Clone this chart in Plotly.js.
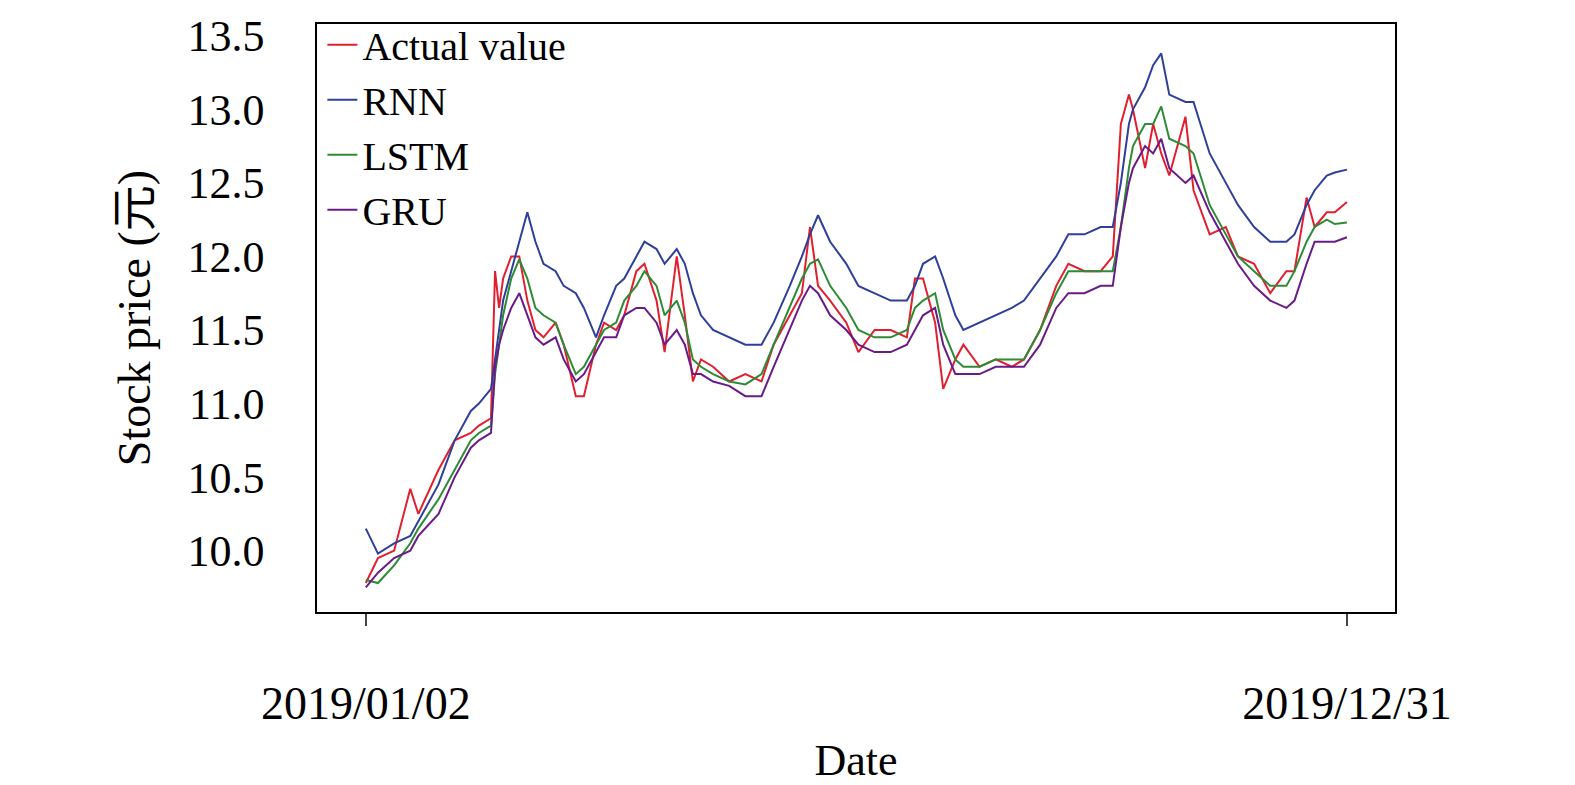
<!DOCTYPE html>
<html><head><meta charset="utf-8">
<script src="https://cdn.plot.ly/plotly-3.0.1.min.js"></script>
<style>body{margin:0}</style></head>
<body><div id="chart" style="width:1575px;height:785px"></div>
<script>
// trading-day index of each sampled point
const days = [0,3,7,11,13,18,22,26,28,31,32,33,34,36,38,40,42,44,47,49,52,54,57,59,62,64,67,69,72,74,77,79,81,83,86,90,94,98,101,105,108,110,112,115,119,122,126,130,134,136,138,141,143,146,148,152,156,160,163,167,171,174,178,182,185,187,189,190,193,195,197,199,203,205,209,213,216,220,224,228,230,233,235,238,240,243];
const actual = [9.78,9.95,10.0,10.42,10.25,10.55,10.75,10.8,10.85,10.9,11.9,11.65,11.85,12.0,12.0,11.7,11.5,11.45,11.55,11.4,11.05,11.05,11.4,11.55,11.5,11.6,11.9,11.95,11.7,11.35,12.0,11.6,11.15,11.3,11.25,11.15,11.2,11.15,11.4,11.6,11.75,12.2,11.8,11.7,11.55,11.35,11.5,11.5,11.45,11.85,11.85,11.55,11.1,11.3,11.4,11.25,11.3,11.25,11.3,11.5,11.8,11.95,11.9,11.9,12.0,12.9,13.1,13.0,12.6,12.9,12.7,12.55,12.95,12.45,12.15,12.2,12.0,11.95,11.75,11.9,11.9,12.4,12.2,12.3,12.3,12.37];
const rnn = [10.15,9.98,10.05,10.1,10.2,10.45,10.75,10.95,11.0,11.1,11.3,11.5,11.7,11.9,12.1,12.3,12.1,11.95,11.9,11.8,11.75,11.65,11.45,11.6,11.8,11.85,12.0,12.1,12.05,11.95,12.05,11.95,11.75,11.6,11.5,11.45,11.4,11.4,11.55,11.8,12.0,12.15,12.28,12.1,11.95,11.8,11.75,11.7,11.7,11.8,11.95,12.0,11.85,11.6,11.5,11.55,11.6,11.65,11.7,11.85,12.0,12.15,12.15,12.2,12.2,12.5,12.9,13.0,13.15,13.3,13.38,13.1,13.05,13.05,12.7,12.5,12.35,12.2,12.1,12.1,12.15,12.35,12.45,12.55,12.57,12.59];
const lstm = [9.8,9.78,9.9,10.05,10.15,10.35,10.55,10.75,10.8,10.85,11.2,11.4,11.6,11.85,11.98,11.85,11.65,11.6,11.55,11.4,11.2,11.25,11.4,11.5,11.55,11.7,11.8,11.9,11.8,11.6,11.7,11.55,11.3,11.25,11.2,11.15,11.13,11.2,11.4,11.65,11.85,11.95,11.98,11.8,11.65,11.5,11.45,11.45,11.5,11.65,11.7,11.75,11.5,11.3,11.25,11.25,11.3,11.3,11.3,11.5,11.75,11.9,11.9,11.9,11.9,12.2,12.6,12.75,12.9,12.9,13.02,12.8,12.75,12.7,12.35,12.15,12.0,11.9,11.8,11.8,11.9,12.1,12.2,12.25,12.22,12.23];
const gru = [9.75,9.85,9.95,10.0,10.1,10.25,10.5,10.7,10.75,10.8,11.25,11.4,11.5,11.65,11.75,11.6,11.45,11.4,11.45,11.3,11.15,11.2,11.35,11.45,11.45,11.6,11.65,11.65,11.55,11.4,11.5,11.4,11.2,11.2,11.15,11.12,11.05,11.05,11.25,11.5,11.7,11.8,11.75,11.6,11.5,11.4,11.35,11.35,11.4,11.5,11.6,11.65,11.4,11.2,11.2,11.2,11.25,11.25,11.25,11.4,11.65,11.75,11.75,11.8,11.8,12.2,12.5,12.6,12.75,12.7,12.8,12.6,12.5,12.55,12.3,12.1,11.95,11.8,11.7,11.65,11.7,11.95,12.1,12.1,12.1,12.13];
const tickDays = [0, 243];
const tickLabels = ['2019/01/02', '2019/12/31'];

const font = {family: 'Liberation Serif, Noto Sans CJK SC', color: '#000'};
const mk = (y, name, color) => ({x: days, y: y, name: name, mode: 'lines', line: {color: color, width: 2}});
const data = [
  mk(actual, 'Actual value', '#e0202e'),
  mk(rnn, 'RNN', '#2f3f9a'),
  mk(lstm, 'LSTM', '#2e8b35'),
  mk(gru, 'GRU', '#6a1b8a')
];
const layout = {
  width: 1575, height: 785,
  margin: {l: 317, r: 180, t: 18, b: 173},
  paper_bgcolor: '#fff', plot_bgcolor: '#fff',
  font: Object.assign({size: 44}, font),
  showlegend: true,
  legend: {x: 0.005, y: 1.02, xanchor: 'left', yanchor: 'top', bgcolor: 'rgba(0,0,0,0)',
    font: Object.assign({size: 40}, font), tracegroupgap: 0, itemwidth: 30},
  xaxis: {range: [-12.1, 254.9], tickvals: tickDays, ticktext: tickLabels,
    tickfont: Object.assign({size: 46}, font),
    ticks: 'outside', ticklen: 12, tickwidth: 1.5, ticklabelstandoff: 38,
    showgrid: false, zeroline: false, showline: true, linecolor: '#000', linewidth: 1.5, mirror: true,
    title: {text: 'Date', font: Object.assign({size: 44}, font), standoff: 22}},
  yaxis: {range: [9.583, 13.58], tickvals: [10, 10.5, 11, 11.5, 12, 12.5, 13, 13.5],
    ticktext: ['10.0','10.5','11.0','11.5','12.0','12.5','13.0','13.5'],
    tickfont: Object.assign({size: 44}, font),
    ticks: '', ticklabelstandoff: 42,
    showgrid: false, zeroline: false, showline: true, linecolor: '#000', linewidth: 1.5, mirror: true,
    title: {text: 'Stock price (元)', font: Object.assign({size: 46}, font), standoff: 22}}
};
Plotly.newPlot('chart', data, layout, {displayModeBar: false});
</script></body></html>
